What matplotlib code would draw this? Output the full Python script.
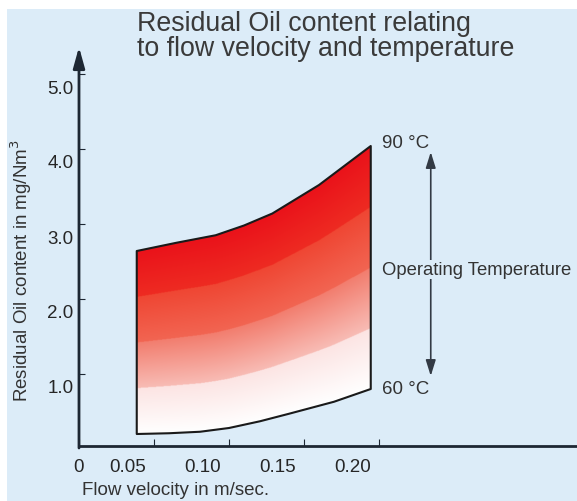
import numpy as np
import matplotlib
matplotlib.use("Agg")
import matplotlib.pyplot as plt
from matplotlib.patches import Polygon, Rectangle
from matplotlib import transforms

# values
flow_top = [0.0385, 0.065, 0.0911, 0.11, 0.1289, 0.16, 0.1945]      # m/sec, upper edge (90 C)
oil_90C = [2.64, 2.75, 2.85, 2.98, 3.14, 3.52, 4.04]                # mg/Nm3
flow_bottom = [0.0385, 0.06, 0.0807, 0.10, 0.1207, 0.14, 0.17, 0.1945]  # lower edge (60 C)
oil_60C = [0.20, 0.21, 0.23, 0.28, 0.37, 0.47, 0.63, 0.80]

x_ticks = [0, 0.05, 0.10, 0.15, 0.20]
x_tick_labels = ["0", "0.05", "0.10", "0.15", "0.20"]
y_ticks = [1, 2, 3, 4, 5]
y_tick_labels = ["1.0", "2.0", "3.0", "4.0", "5.0"]

# colour of each band, (bottom of band, top of band), from 60 C up to 90 C
band_colors = [
    ("#ffffff", "#fce4e3"),
    ("#f8bcb5", "#f27d6e"),
    ("#f26552", "#ef4633"),
    ("#ee2b22", "#ea121a"),
]

BG = "#dcecf8"
AXIS_COLOR = "#1d2733"
TEXT_COLOR = "#333333"

plt.rcParams['font.family'] = ['Liberation Sans', 'DejaVu Sans']

W, H = 577, 502
fig = plt.figure(figsize=(W / 100, H / 100), dpi=100)
fig.patch.set_facecolor("white")
fig.patches.append(Rectangle((7 / W, 0), 1, 1 - 10 / H, transform=fig.transFigure,
                             facecolor=BG, edgecolor="none", zorder=-10))

ax = fig.add_axes([79 / W, 1 - 447 / H, 498 / W, (447 - 48) / H])
ax.set_facecolor("none")
ax.set_xlim(0, 498 / 1500)
ax.set_ylim(0.04, 5.36)

for s in ["left", "top", "right"]:
    ax.spines[s].set_visible(False)
ax.spines["bottom"].set_color(AXIS_COLOR)
ax.spines["bottom"].set_linewidth(2)

# y axis drawn as an arrow
ax.annotate("", xy=(0, 1), xytext=(0, -0.005), xycoords="axes fraction",
            arrowprops=dict(arrowstyle="-|>,head_length=0.9,head_width=0.25",
                            lw=2, color=AXIS_COLOR, shrinkA=0, shrinkB=0,
                            mutation_scale=14))

# gradient fill between the two temperature curves
gx = np.linspace(flow_top[0], flow_top[-1], 500)
gy = np.linspace(0, 4.2, 600)
XX, YY = np.meshgrid(gx, gy)
top = np.interp(XX, flow_top, oil_90C)
bot = np.interp(XX, flow_bottom, oil_60C)
t = np.clip((YY - bot) / (top - bot), 0, 0.9999)
band = np.floor(t * 4).astype(int)
frac = t * 4 - band
lo = np.array([matplotlib.colors.to_rgb(c[0]) for c in band_colors])
hi = np.array([matplotlib.colors.to_rgb(c[1]) for c in band_colors])
img = lo[band] + (hi[band] - lo[band]) * frac[..., None]

verts = list(zip(flow_top, oil_90C)) + list(zip(flow_bottom[::-1], oil_60C[::-1]))
shape = Polygon(verts, closed=True, facecolor="none", edgecolor="#1a1a1a", lw=1.5,
                joinstyle="round", zorder=3)
ax.add_patch(shape)
im = ax.imshow(img, extent=[gx[0], gx[-1], gy[0], gy[-1]], origin="lower",
               aspect="auto", interpolation="bilinear", zorder=2)
im.set_clip_path(shape)

# ticks
ax.set_xticks(x_ticks)
ax.set_xticklabels(x_tick_labels)
ax.set_yticks(y_ticks)
ax.set_yticklabels(y_tick_labels)
ax.tick_params(axis="x", direction="in", length=5, width=0.8, color=AXIS_COLOR,
               pad=9, labelsize=13.5, labelcolor="#262626")
ax.tick_params(axis="y", direction="in", length=4, width=0.8, color=AXIS_COLOR,
               pad=4, labelsize=13.5, labelcolor="#262626")
for i, lab in enumerate(ax.get_xticklabels()):
    if i > 0:
        off = transforms.ScaledTranslation(-26 / 100, 0, fig.dpi_scale_trans)
        lab.set_transform(lab.get_transform() + off)
for lab in ax.get_yticklabels():
    off = transforms.ScaledTranslation(0, -12 / 100, fig.dpi_scale_trans)
    lab.set_transform(lab.get_transform() + off)

# axis labels and title
fig.text(82 / W, 1 - 491 / H, "Flow velocity in m/sec.", fontsize=13.5,
         color=TEXT_COLOR, ha="left", va="center")
fig.text(21 / W, 1 - 271 / H, "Residual Oil content in mg/Nm$^3$", fontsize=13.5,
         color=TEXT_COLOR, rotation=90, ha="center", va="center")
fig.text(137 / W, 1 - 11 / H,
         "Residual Oil content relating\nto flow velocity and temperature",
         fontsize=19.3, color="#3a3a3a", ha="left", va="top", linespacing=0.95)

# temperature annotations at the right edge
ax.annotate("90 °C", xy=(flow_top[-1], oil_90C[-1]), xytext=(11, 4),
            textcoords="offset pixels", fontsize=13.5, color=TEXT_COLOR,
            ha="left", va="center")
ax.annotate("60 °C", xy=(flow_bottom[-1], oil_60C[-1]), xytext=(11, 0),
            textcoords="offset pixels", fontsize=13.5, color=TEXT_COLOR,
            ha="left", va="center")

top_tip = transforms.offset_copy(ax.transData, fig=fig, x=60, y=-6, units="dots")
bot_tip = transforms.offset_copy(ax.transData, fig=fig, x=60, y=13, units="dots")
ax.annotate("", xy=(flow_top[-1], oil_90C[-1]), xycoords=top_tip,
            xytext=(flow_bottom[-1], oil_60C[-1]), textcoords=bot_tip,
            arrowprops=dict(arrowstyle="<|-|>,head_length=0.8,head_width=0.25",
                            lw=1.2, color="#333a44", shrinkA=0, shrinkB=0,
                            mutation_scale=12))
ax.annotate("Operating Temperature",
            xy=(flow_top[-1], (oil_90C[-1] + oil_60C[-1]) / 2), xytext=(11, -2),
            textcoords="offset pixels", fontsize=13.3, color=TEXT_COLOR,
            ha="left", va="center", annotation_clip=False,
            bbox=dict(facecolor=BG, edgecolor="none", pad=0.5))

fig.savefig("out.png", dpi=100)
